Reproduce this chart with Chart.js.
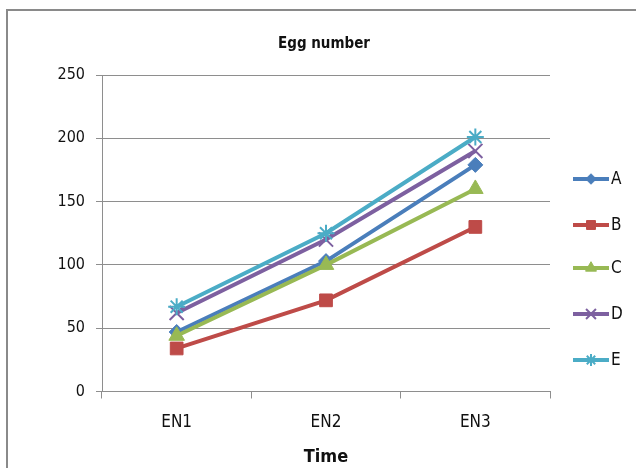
<!DOCTYPE html>
<html>
<head>
<meta charset="utf-8">
<script src="https://cdn.jsdelivr.net/npm/chart.js@4"></script>
<style>
  html, body { margin: 0; padding: 0; background: #fff; }
  #wrap { position: relative; width: 636px; height: 468px; }
</style>
</head>
<body>
<div id="wrap"><canvas id="c" width="636" height="468"></canvas></div>
<script>
const categories = ['EN1', 'EN2', 'EN3'];
const seriesNames = ['A', 'B', 'C', 'D', 'E'];
const seriesA = [47, 103, 179];
const seriesB = [34, 72, 130];
const seriesC = [44, 100, 160];
const seriesD = [62, 120, 190];
const seriesE = [67, 125, 201];
const yTicks = [0, 50, 100, 150, 200, 250];
const chartTitle = 'Egg number';
const xTitle = 'Time';

const FONT = "'Liberation Sans Narrow', 'Arial Narrow', 'DejaVu Sans Condensed', sans-serif";
const colors = ['#4a7ebb', '#be4b48', '#98b954', '#7d60a0', '#4bacc6'];
const styles = ['rectRot', 'rect', 'triangle', 'crossRot', 'star'];
const radii = [7.5, 9, 9, 10, 8.5];
const values = [seriesA, seriesB, seriesC, seriesD, seriesE];

const datasets = seriesNames.map((n, i) => ({
  label: n,
  data: values[i],
  borderColor: colors[i],
  backgroundColor: colors[i],
  pointBackgroundColor: colors[i],
  pointBorderColor: colors[i],
  pointStyle: styles[i],
  pointRadius: radii[i],
  pointBorderWidth: (styles[i] === 'crossRot' || styles[i] === 'star') ? 2 : 1,
  borderWidth: 4,
  tension: 0,
  order: 4 - i
}));

const decor = {
  id: 'decor',
  beforeDraw(chart) {
    const ctx = chart.ctx;
    ctx.save();
    ctx.strokeStyle = '#8a8a8a';
    ctx.lineWidth = 2;
    ctx.beginPath();
    ctx.moveTo(7, 468);
    ctx.lineTo(7, 10);
    ctx.lineTo(636, 10);
    ctx.stroke();
    ctx.restore();
  },
  afterDraw(chart) {
    const ctx = chart.ctx;
    ctx.save();
    ctx.fillStyle = '#111';
    ctx.font = 'bold 15px ' + FONT;
    ctx.textAlign = 'center';
    ctx.textBaseline = 'middle';
    ctx.fillText(chartTitle, 324, 44);
    // legend
    const ys = [179, 225, 268, 314, 360];
    chart.data.datasets.forEach((ds, i) => {
      const y = ys[i];
      ctx.strokeStyle = ds.borderColor;
      ctx.lineWidth = 4;
      ctx.beginPath();
      ctx.moveTo(573, y);
      ctx.lineTo(609, y);
      ctx.stroke();
      ctx.fillStyle = ds.borderColor;
      ctx.strokeStyle = ds.borderColor;
      ctx.lineWidth = ds.pointBorderWidth;
      Chart.helpers.drawPoint(ctx, { pointStyle: ds.pointStyle, radius: ds.pointRadius * 0.7, borderWidth: ds.pointBorderWidth, rotation: 0 }, 591, y);
      ctx.fillStyle = '#111';
      ctx.font = '17px ' + FONT;
      ctx.textAlign = 'left';
      ctx.textBaseline = 'middle';
      ctx.fillText(ds.label, 611, y + 1);
    });
    ctx.restore();
  }
};

new Chart(document.getElementById('c'), {
  type: 'line',
  data: { labels: categories, datasets },
  options: {
    responsive: false,
    animation: false,
    devicePixelRatio: 1,
    layout: { padding: { top: 75, right: 86, left: 0, bottom: 0 } },
    plugins: { legend: { display: false }, tooltip: { enabled: false }, title: { display: false } },
    scales: {
      x: {
        offset: true,
        afterFit: s => { s.height = 76.5; },
        grid: { display: true, drawOnChartArea: false, tickLength: 7, color: '#8e8e8e', offset: true },
        border: { display: true, color: '#8e8e8e' },
        ticks: { color: '#111', font: { family: FONT, size: 17 }, padding: 14 },
        title: { display: true, text: xTitle, color: '#111', font: { family: FONT, size: 18, weight: 'bold' }, padding: { top: 0, bottom: 0 } }
      },
      y: {
        min: 0, max: 250,
        afterFit: s => { s.width = 102; },
        afterBuildTicks: s => { s.ticks = yTicks.map(v => ({ value: v })); },
        grid: { color: '#8e8e8e', tickLength: 6 },
        border: { display: true, color: '#8e8e8e' },
        ticks: { color: '#111', font: { family: FONT, size: 16 }, padding: 11 }
      }
    }
  },
  plugins: [decor]
});
</script>
</body>
</html>
